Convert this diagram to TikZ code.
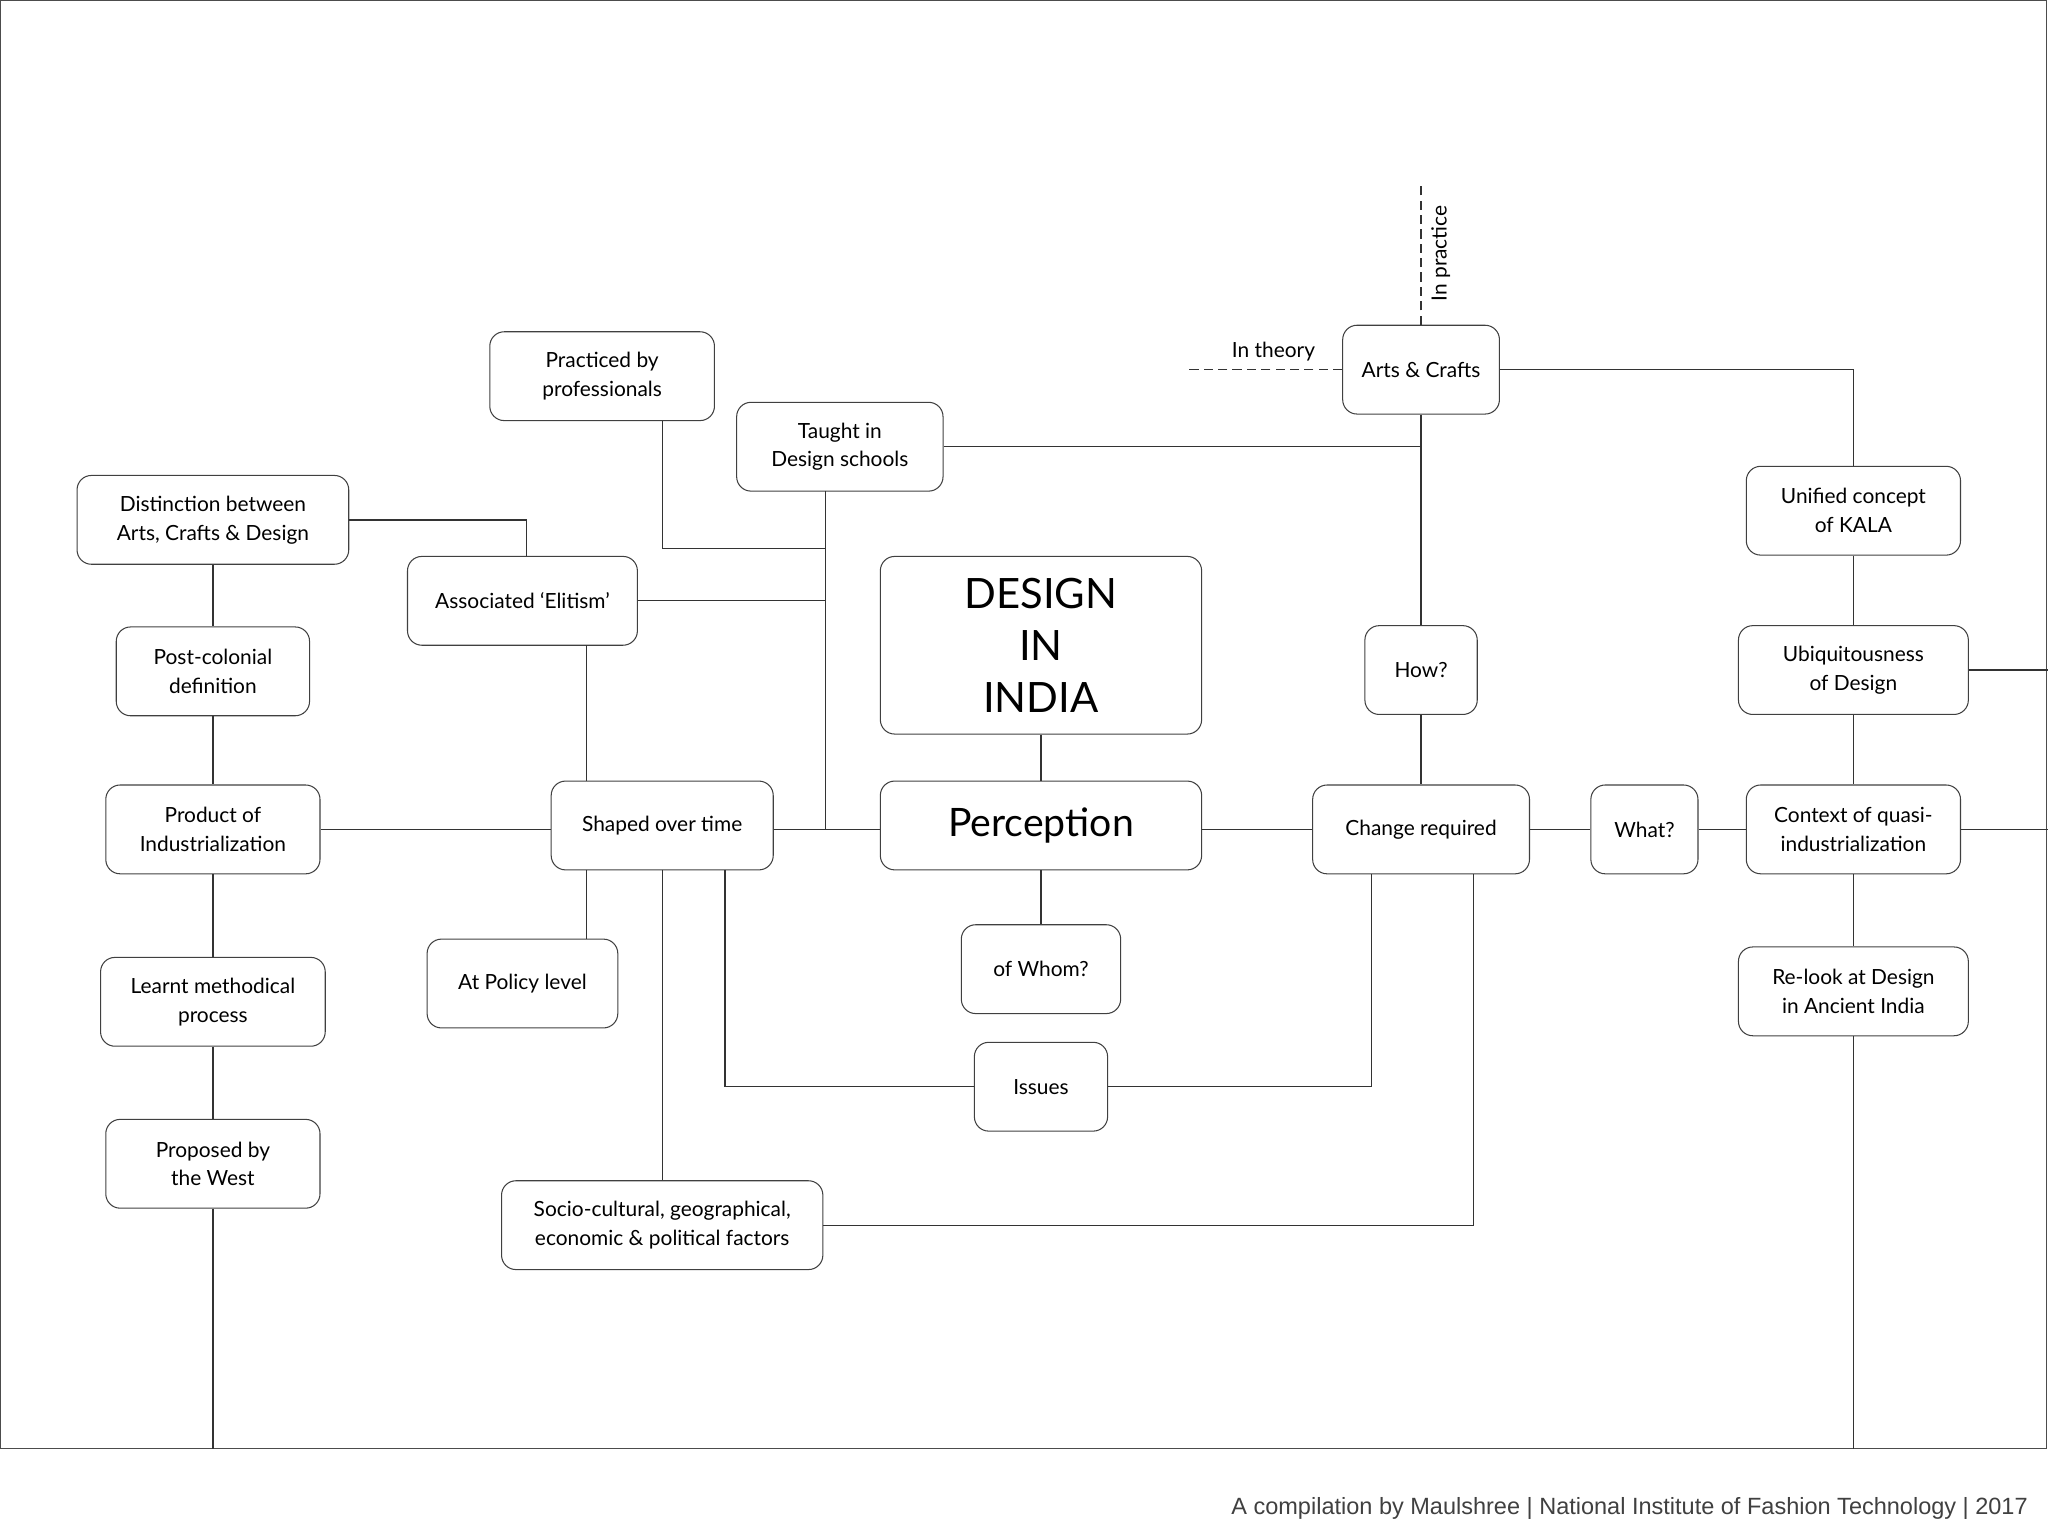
\documentclass[tikz,border=0pt]{standalone}
\usepackage{fontspec}
\setmainfont{Lato}
\newfontfamily\footfont{Liberation Sans}
\begin{document}
\begin{tikzpicture}[x=1pt,y=-1pt,
  box/.style={draw=black!75,line width=0.8pt,rounded corners=11pt,align=center,inner sep=0pt,
    font=\fontsize{16}{22}\selectfont},
  ln/.style={draw=black!80,line width=1pt},
  dl/.style={ln,dashed,dash pattern=on 7pt off 4pt}]
\useasboundingbox (0,0) rectangle (1568,1176);
\draw[black!70,line width=0.8pt] (0,0) rectangle (1567,1109);
\node[font=\footfont\fontsize{18}{20}\selectfont,anchor=east,text=black!75] (foot) at (1556,1155) {A compilation by Maulshree | National Institute of Fashion Technology | 2017};
\def\bx#1#2#3#4#5#6{\node[box,minimum width=#4pt,minimum height=#5pt] (#1) at (#2,#3) {#6};}
\bx{practiced}{461}{288}{172}{68}{Practiced by\\professionals}
\bx{taught}{643}{342}{158}{68}{Taught in\\Design schools}
\bx{distinction}{163}{398}{208}{68}{Distinction between\\Arts, Crafts \& Design}
\bx{elitism}{400}{460}{176}{68}{Associated ‘Elitism’}
\node[box,minimum width=246pt,minimum height=136pt,font=\fontsize{32}{40}\selectfont] (design) at (797,494) {DESIGN\\IN\\INDIA};
\bx{postcolonial}{163}{514}{148}{68}{Post-colonial\\definition}
\bx{product}{163}{635}{164}{68}{Product of\\Industrialization}
\bx{shaped}{507}{632}{170}{68}{Shaped over time}
\node[box,minimum width=246pt,minimum height=68pt,font=\fontsize{30}{36}\selectfont] (perception) at (797,632) {Perception};
\bx{change}{1088}{635}{166}{68}{Change required}
\bx{what}{1259}{635}{82}{68}{What?}
\bx{context}{1419}{635}{164}{68}{Context of quasi-\\industrialization}
\bx{learnt}{163}{767}{172}{68}{Learnt methodical\\process}
\bx{policy}{400}{753}{146}{68}{At Policy level}
\bx{whom}{797}{742}{122}{68}{of Whom?}
\bx{issues}{797}{832}{102}{68}{Issues}
\bx{proposed}{163}{891}{164}{68}{Proposed by\\the West}
\bx{socio}{507}{938}{246}{68}{Socio-cultural, geographical,\\economic \& political factors}
\bx{arts}{1088}{283}{120}{68}{Arts \& Crafts}
\bx{how}{1088}{513}{86}{68}{How?}
\bx{unified}{1419}{391}{164}{68}{Unified concept\\of KALA}
\bx{ubiq}{1419}{513}{176}{68}{Ubiquitousness\\of Design}
\bx{relook}{1419}{759}{176}{68}{Re-look at Design\\in Ancient India}
\coordinate (lb) at (163,1109);
\coordinate (rb) at (1419,1109);
\coordinate (re1) at (1568,635);
\coordinate (re2) at (1568,513);
\coordinate (th) at (910,283);
\coordinate (pr) at (1088,140);
\draw[ln] (distinction) -- (postcolonial) -- (product) -- (learnt) -- (proposed) -- (lb);
\draw[ln] (distinction.east) -| (403,426);
\draw[ln] (product.east) -- (shaped.west |- product.east);
\draw[ln] (449,494) -- (449,598);
\draw[ln] (449,666) -- (449,719);
\draw[ln] (elitism.east) -- (632,460);
\draw[ln] (632,376) -- (632,635);
\draw[ln] (507,322) |- (632,420);
\draw[ln] (shaped.east |- 0,635) -- (perception.west |- 0,635);
\draw[ln] (design) -- (perception);
\draw[ln] (perception) -- (whom);
\draw[ln] (perception.east |- 0,635) -- (change.west);
\draw[ln] (change) -- (what) -- (context) -- (re1);
\draw[ln] (taught.east) -- (1088,342);
\draw[ln] (arts) -- (how) -- (change);
\draw[ln] (555,666) |- (issues.west);
\draw[ln] (issues.east) -| (1050,669);
\draw[ln] (507,666) -- (socio.north);
\draw[ln] (socio.east) -| (1128,669);
\draw[ln] (arts.east) -| (unified.north);
\draw[ln] (unified) -- (ubiq) -- (context) -- (relook) -- (rb);
\draw[ln] (ubiq.east) -- (re2);
\draw[dl] (arts.west) -- (th);
\draw[dl] (arts.north) -- (pr);
\node[font=\fontsize{16}{20}\selectfont] (theory) at (975,269) {In theory};
\node[font=\fontsize{16}{20}\selectfont,rotate=90] (practice) at (1103,194) {In practice};
\end{tikzpicture}
\end{document}
